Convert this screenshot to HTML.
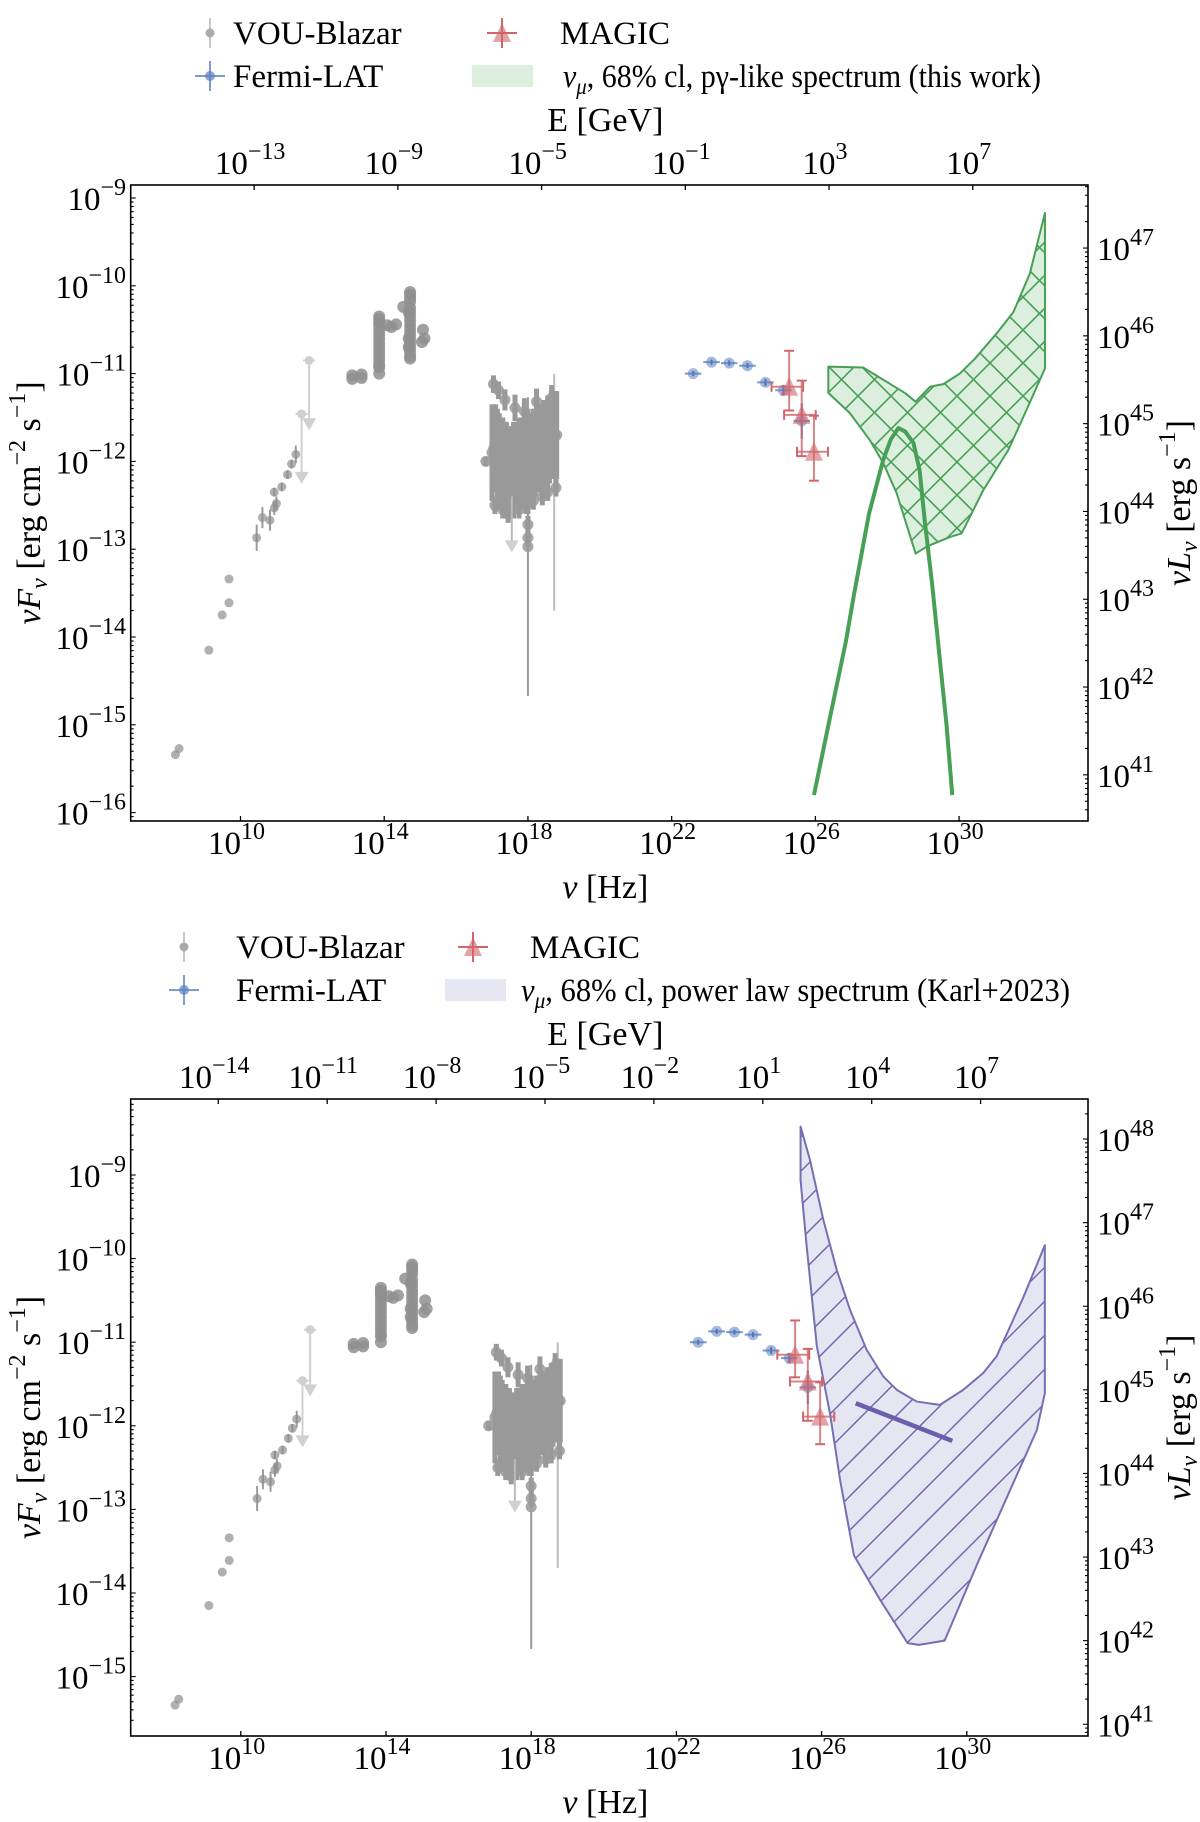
<!DOCTYPE html>
<html><head><meta charset="utf-8">
<style>
html,body{margin:0;padding:0;background:#fff;}
svg{display:block;font-family:"Liberation Serif",serif;}
</style></head>
<body>
<svg id="fig" width="1200" height="1822" viewBox="0 0 1200 1822" xmlns="http://www.w3.org/2000/svg">
<defs>
<pattern id="hatchX" width="33" height="33" patternUnits="userSpaceOnUse">
<path d="M0,0L33,33M33,0L0,33" stroke="#47a055" stroke-width="1.6"/>
</pattern>
<pattern id="hatchSlash" width="34" height="34" patternUnits="userSpaceOnUse">
<path d="M-2,36L36,-2M-36,36L2,-2M32,36L70,-2" stroke="#6a63ad" stroke-width="1.4"/>
</pattern>
</defs>
</svg>
<script>
// ---------------- data (log10 nu [Hz], log10 nuF_nu [erg cm-2 s-1]) ----------------
const radioNu=[8.19,8.29,9.12,9.49,9.68,9.68,10.45,10.61,10.82,10.94,11.0,10.94,11.15,11.31,11.42,11.54];
const radioF=[-15.34,-15.27,-14.15,-13.75,-13.61,-13.34,-12.87,-12.64,-12.67,-12.53,-12.48,-12.35,-12.29,-12.15,-12.03,-11.92];
const radioErr=[0,0,0,0,0,0,0.15,0.12,0.12,0.08,0.08,0.05,0.05,0.05,0.05,0.1];
const ulNu=[11.70,11.91];
const ulF=[-11.46,-10.85];
const ulTo=[-12.21,-11.60];
const irNu=[13.11,13.11,13.37,13.37,13.86,13.86,13.86,13.86,13.86,13.86,13.86,13.86,13.86,13.86,13.86,13.86,13.86,13.86,13.86,14.08,14.2,14.33,14.53,14.72,14.72,14.72,14.72,14.72,14.72,14.72,14.72,14.72,14.72,14.72,14.72,14.72,14.72,14.72,14.72,14.72,14.68,14.68,14.68,15.08,15.12,15.05];
const irF=[-11.02,-11.06,-11.01,-11.05,-10.35,-10.38,-10.42,-10.45,-10.5,-10.55,-10.6,-10.65,-10.7,-10.75,-10.8,-10.85,-10.9,-10.93,-11.0,-10.45,-10.47,-10.44,-10.24,-10.07,-10.1,-10.14,-10.18,-10.25,-10.3,-10.35,-10.4,-10.45,-10.5,-10.55,-10.6,-10.65,-10.7,-10.75,-10.8,-10.83,-10.3,-10.6,-10.7,-10.5,-10.6,-10.64];
const xrayNu=[16.83,17.04,17.18,17.36,17.64,17.9,18.24,18.66,17.0,17.05,17.1,17.15,17.2,17.25,17.3,17.35,17.4,17.45,17.5,17.55,17.6,17.65,17.7,17.75,17.8,17.85,17.9,17.95,18.0,18.05,18.1,18.15,18.2,18.25,18.3,18.35,18.4,18.45,18.5,18.55,18.6,18.65,18.7,18.75,18.8,18.0,18.0,18.0,17.08,17.3,17.45,17.75,17.95,18.15,18.4,18.55,18.78];
const xrayF=[-12.0,-11.12,-11.19,-11.30,-11.39,-11.43,-11.32,-11.28,-11.9,-11.85,-11.85,-11.95,-12.0,-12.0,-12.05,-12.05,-12.1,-12.1,-12.15,-12.1,-12.1,-12.05,-12.05,-12.0,-12.0,-12.0,-12.0,-12.0,-12.0,-11.95,-11.95,-11.9,-11.9,-11.85,-11.85,-11.85,-11.85,-11.8,-11.8,-11.75,-11.75,-11.7,-11.7,-11.7,-11.7,-12.72,-12.87,-12.97,-12.5,-12.55,-12.6,-12.55,-12.5,-12.45,-12.4,-12.35,-12.3];
const xrayErr=[0.05,0.1,0.1,0.12,0.15,0.15,0.15,0.15,0.55,0.5,0.5,0.55,0.55,0.5,0.55,0.5,0.55,0.5,0.5,0.5,0.55,0.5,0.5,0.5,0.5,0.5,0.55,0.5,0.6,0.5,0.5,0.5,0.5,0.5,0.5,0.5,0.5,0.5,0.5,0.5,0.5,0.5,0.5,0.5,0.5,0.1,0.1,1.7,0.1,0.1,0.1,0.1,0.1,0.1,0.1,0.1,0.1];
const xlineNu=[18.73];
const xlineTop=[-11.0];
const xlineBot=[-13.7];
const xulNu=[17.55];
const xulF=[-12.4];
const xulTo=[-12.99];
const fermiNu=[22.60,23.11,23.60,24.11,24.61,25.11,25.62];
const fermiF=[-11.0,-10.87,-10.88,-10.91,-11.10,-11.19,-11.54];
const fermiErr=[0.03,0.03,0.03,0.03,0.04,0.06,0.2];
const fermiXerr=[0.23,0.23,0.23,0.23,0.23,0.23,0.23];
const magicNu=[25.27,25.62,25.96];
const magicF=[-11.15,-11.47,-11.89];
const magicLo=[-11.42,-11.94,-12.22];
const magicHi=[-10.74,-11.08,-11.48];
const magicNuLo=[24.78,25.13,25.49];
const magicNuHi=[25.66,26.01,26.35];
// green pgamma band (top panel)
const greenUpNu=[26.36,27.33,27.89,28.49,28.79,29.19,29.56,30.02,30.44,31.05,31.51,31.97,32.39];
const greenUpF=[-10.92,-10.93,-11.07,-11.22,-11.32,-11.15,-11.12,-11.0,-10.83,-10.54,-10.30,-9.86,-9.17];
const greenLoNu=[32.39,31.88,31.37,30.67,30.07,29.75,29.10,28.79,28.26,27.89,27.52,26.96,26.36];
const greenLoF=[-10.94,-11.41,-11.87,-12.33,-12.82,-12.86,-12.97,-13.05,-12.36,-12.02,-11.76,-11.45,-11.22];
const bellNu=[25.96,26.4,26.85,27.06,27.49,27.89,28.1,28.31,28.5,28.73,28.9,29.05,29.25,29.45,29.65,29.81];
const bellF=[-15.8,-14.93,-14.05,-13.55,-12.6,-11.98,-11.75,-11.62,-11.66,-11.79,-12.1,-12.7,-13.4,-14.2,-15.0,-15.8];
// purple power-law band (bottom panel)
const purpUpNu=[25.42,25.68,26.05,26.42,26.78,27.24,27.70,28.07,28.62,29.26,29.90,30.45,30.82,31.56,32.15];
const purpUpF=[-8.42,-8.82,-9.54,-10.14,-10.61,-11.09,-11.41,-11.57,-11.71,-11.75,-11.57,-11.37,-11.17,-10.46,-9.84];
const purpLoNu=[32.15,31.93,30.28,29.39,28.68,28.37,27.61,26.89,26.51,26.23,25.87,25.59,25.42];
const purpLoF=[-11.61,-12.05,-13.66,-14.57,-14.62,-14.60,-14.08,-13.55,-12.65,-11.85,-11.05,-9.86,-9.06];
const plNu=[26.94,29.60];
const plF=[-11.73,-12.18];
// axis tick labels
const topYTicks=[-16,-15,-14,-13,-12,-11,-10,-9];
const topRTicks=[41,42,43,44,45,46,47];
const topETicks=[-13,-9,-5,-1,3,7];
const botYTicks=[-15,-14,-13,-12,-11,-10,-9];
const botRTicks=[41,42,43,44,45,46,47,48];
const botETicks=[-14,-11,-8,-5,-2,1,4,7];
const nuTicks=[10,14,18,22,26,30];
const LOFFSET=56.57, EOFFSET=23.38;

const NS="http://www.w3.org/2000/svg";
const svg=document.getElementById('fig');
function el(tag,attrs,parent){const e=document.createElementNS(NS,tag);for(const k in attrs)e.setAttribute(k,attrs[k]);(parent||svg).appendChild(e);return e;}
function powText(parent,x,y,exp,anchor){
  const t=el('text',{x:x,y:y,'font-size':33,'text-anchor':anchor,fill:'#000'},parent);
  const a=el('tspan',{},t);a.textContent='10';
  const b=el('tspan',{dy:-15,'font-size':24},t);b.textContent=String(exp).replace('-','\u2212');
  return t;
}

function panel(P){
  const g=el('g',{});
  
  
  const X=l=>P.x0+(l-10)*P.xs;
  const Y=l=>P.y0-(l+9)*P.ys;
  const cid='clip'+P.id;
  const cp=el('clipPath',{id:cid},g);el('rect',{x:P.L,y:P.T,width:P.R-P.L,height:P.B-P.T},cp);
  const d=el('g',{'clip-path':'url(#'+cid+')'},g);
  
  
  const pts=P.upNu.map((n,i)=>X(n)+','+Y(P.upF[i])).concat(P.loNu.map((n,i)=>X(n)+','+Y(P.loF[i]))).join(' ');
  const band=el('polygon',{points:pts,fill:P.bandFill,stroke:'none'},d);
  
  
  const hatch=el('polygon',{points:pts,fill:'url(#'+P.pattern+')',stroke:P.bandEdge,'stroke-width':2,'stroke-linejoin':'round'},d);
  
  
  if(P.curveNu){
    const c=el('polyline',{points:P.curveNu.map((n,i)=>X(n)+','+Y(P.curveF[i])).join(' '),fill:'none',stroke:P.curveColor,'stroke-width':P.curveW,'stroke-linejoin':'round'},d);
    
    
  }
  const gv=el('g',{},d);
  
  
  radioNu.forEach((n,i)=>{
    if(radioErr[i]>0)el('line',{x1:X(n),x2:X(n),y1:Y(radioF[i]+radioErr[i]),y2:Y(radioF[i]-radioErr[i]),stroke:'#9a9a9a','stroke-width':2},gv);
    el('circle',{cx:X(n),cy:Y(radioF[i]),r:4.5,fill:'#8f8f8f','fill-opacity':0.7},gv);
  });
  ulNu.forEach((n,i)=>{
    el('line',{x1:X(n),x2:X(n),y1:Y(ulF[i]),y2:Y(ulTo[i]),stroke:'#d0d0d0','stroke-width':2},gv);
    el('line',{x1:X(n)-6,x2:X(n)+6,y1:Y(ulF[i]),y2:Y(ulF[i]),stroke:'#d0d0d0','stroke-width':2},gv);
    el('circle',{cx:X(n),cy:Y(ulF[i]),r:4.5,fill:'#d0d0d0'},gv);
    const yy=Y(ulTo[i]);
    el('polygon',{points:(X(n)-7)+','+(yy-8)+' '+(X(n)+7)+','+(yy-8)+' '+X(n)+','+(yy+4),fill:'#d0d0d0'},gv);
  });
  irNu.forEach((n,i)=>{el('circle',{cx:X(n),cy:Y(irF[i]),r:6,fill:'#8f8f8f','fill-opacity':0.85},gv);});
  xlineNu.forEach((n,i)=>{el('line',{x1:X(n),x2:X(n),y1:Y(xlineTop[i]),y2:Y(xlineBot[i]),stroke:'#bdbdbd','stroke-width':2},gv);});
  xrayNu.forEach((n,i)=>{
    el('line',{x1:X(n),x2:X(n),y1:Y(xrayF[i]+xrayErr[i]),y2:Y(xrayF[i]-xrayErr[i]),stroke:'#999','stroke-width':i===47?2:5},gv);
    el('circle',{cx:X(n),cy:Y(xrayF[i]),r:5.5,fill:'#999','fill-opacity':0.85},gv);
  });
  xulNu.forEach((n,i)=>{
    el('line',{x1:X(n),x2:X(n),y1:Y(xulF[i]),y2:Y(xulTo[i]),stroke:'#bbb','stroke-width':2},gv);
    const yy=Y(xulTo[i]);
    el('polygon',{points:(X(n)-7)+','+(yy-8)+' '+(X(n)+7)+','+(yy-8)+' '+X(n)+','+(yy+4),fill:'#d0d0d0'},gv);
  });
  const gf=el('g',{},d);
  
  
  fermiNu.forEach((n,i)=>{
    el('line',{x1:X(n-fermiXerr[i]),x2:X(n+fermiXerr[i]),y1:Y(fermiF[i]),y2:Y(fermiF[i]),stroke:'#5b7fc0','stroke-width':2,'stroke-opacity':0.8},gf);
    el('line',{x1:X(n),x2:X(n),y1:Y(fermiF[i]+fermiErr[i]),y2:Y(fermiF[i]-fermiErr[i]),stroke:'#4a68a8','stroke-width':2},gf);
    el('circle',{cx:X(n),cy:Y(fermiF[i]),r:5.5,fill:'#5b7fc0','fill-opacity':0.55},gf);
  });
  const gm=el('g',{},d);
  
  
  magicNu.forEach((n,i)=>{
    const c='#d0666a',x=X(n),y=Y(magicF[i]);
    el('line',{x1:X(magicNuLo[i]),x2:X(magicNuHi[i]),y1:y,y2:y,stroke:c,'stroke-width':2,'stroke-opacity':0.8},gm);
    el('line',{x1:x,x2:x,y1:Y(magicHi[i]),y2:Y(magicLo[i]),stroke:c,'stroke-width':2,'stroke-opacity':0.8},gm);
    [Y(magicHi[i]),Y(magicLo[i])].forEach(yy=>el('line',{x1:x-5,x2:x+5,y1:yy,y2:yy,stroke:c,'stroke-width':2},gm));
    [X(magicNuLo[i]),X(magicNuHi[i])].forEach(xx=>el('line',{x1:xx,x2:xx,y1:y-5,y2:y+5,stroke:c,'stroke-width':2},gm));
    el('polygon',{points:(x-9)+','+(y+9)+' '+(x+9)+','+(y+9)+' '+x+','+(y-10),fill:c,'fill-opacity':0.6},gm);
  });
  if(P.lineNu){
    const pl=el('line',{x1:X(P.lineNu[0]),y1:Y(P.lineF[0]),x2:X(P.lineNu[1]),y2:Y(P.lineF[1]),stroke:'#6a5fae','stroke-width':4.5},d);
    
    
  }
  el('rect',{x:P.L,y:P.T,width:P.R-P.L,height:P.B-P.T,fill:'none',stroke:'#000','stroke-width':1.6},g);
  const gx=el('g',{},g);
  
  
  nuTicks.forEach(t=>{const x=X(t);el('line',{x1:x,x2:x,y1:P.B,y2:P.B-5,stroke:'#000','stroke-width':1.3},gx);powText(gx,x-4,P.B+33,t,'middle');});
  const xl=el('text',{x:(P.L+P.R)/2-4,y:P.B+77,'font-size':34,'text-anchor':'middle'},gx);
  xl.innerHTML='<tspan font-style="italic">ν</tspan> [Hz]';
  const ge=el('g',{},g);
  
  
  P.eTicks.forEach(t=>{const x=X(t+EOFFSET);el('line',{x1:x,x2:x,y1:P.T,y2:P.T+5,stroke:'#000','stroke-width':1.3},ge);powText(ge,x-4,P.T-11,t,'middle');});
  const el2=el('text',{x:(P.L+P.R)/2-4,y:P.T-54,'font-size':34,'text-anchor':'middle'},ge);el2.textContent='E [GeV]';
  const gy=el('g',{},g);
  
  
  for(let dd=-17;dd<=-8;dd++)for(let k=1;k<10;k++){const y=Y(dd+Math.log10(k));if(y<P.T+1||y>P.B-1)continue;el('line',{x1:P.L,x2:P.L+(k===1?5:3),y1:y,y2:y,stroke:'#000','stroke-width':1.1},gy);}
  P.yTicks.forEach(t=>powText(gy,126,Y(t)+12,t,'end'));
  const yl=el('text',{transform:'translate(40,'+((P.T+P.B)/2)+') rotate(-90)','font-size':34,'text-anchor':'middle'},gy);
  yl.innerHTML='<tspan font-style="italic">νF</tspan><tspan font-style="italic" font-size="24" dy="7">ν</tspan><tspan dy="-7"> [erg cm</tspan><tspan font-size="24" dy="-15">−2</tspan><tspan dy="15"> s</tspan><tspan font-size="24" dy="-15">−1</tspan><tspan dy="15">]</tspan>';
  const gr=el('g',{},g);
  
  
  for(let dd=39;dd<=49;dd++)for(let k=1;k<10;k++){const y=Y(dd+Math.log10(k)-LOFFSET);if(y<P.T+1||y>P.B-1)continue;el('line',{x1:P.R,x2:P.R-(k===1?5:3),y1:y,y2:y,stroke:'#000','stroke-width':1.1},gr);}
  P.rTicks.forEach(t=>powText(gr,1097,Y(t-LOFFSET)+12,t,'start'));
  const rl=el('text',{transform:'translate(1190,'+((P.T+P.B)/2)+') rotate(-90)','font-size':34,'text-anchor':'middle'},gr);
  rl.innerHTML='<tspan font-style="italic">νL</tspan><tspan font-style="italic" font-size="24" dy="7">ν</tspan><tspan dy="-7"> [erg s</tspan><tspan font-size="24" dy="-15">−1</tspan><tspan dy="15">]</tspan>';
  const lg=el('g',{},g);
  
  
  const r1=P.legY, r2=P.legY+43, mx=P.legMx, tx=P.legTx, m2=P.legM2, t2=P.legT2;
  const e1=el('g',{},lg);
  el('line',{x1:mx,x2:mx,y1:r1-15,y2:r1+15,stroke:'#c8c8c8','stroke-width':2},e1);
  el('circle',{cx:mx,cy:r1,r:4.5,fill:'#aaa'},e1);
  el('text',{x:tx,y:r1+11,'font-size':33},e1).textContent='VOU-Blazar';
  const e2=el('g',{},lg);
  el('line',{x1:mx,x2:mx,y1:r2-15,y2:r2+15,stroke:'#7f9bd0','stroke-width':2},e2);
  el('line',{x1:mx-15,x2:mx+15,y1:r2,y2:r2,stroke:'#7f9bd0','stroke-width':2},e2);
  el('circle',{cx:mx,cy:r2,r:5,fill:'#5b7fc0','fill-opacity':0.7},e2);
  el('text',{x:tx,y:r2+11,'font-size':33},e2).textContent='Fermi-LAT';
  const e3=el('g',{},lg);
  el('line',{x1:m2,x2:m2,y1:r1-15,y2:r1+15,stroke:'#d0666a','stroke-width':2},e3);
  el('line',{x1:m2-15,x2:m2+15,y1:r1,y2:r1,stroke:'#d0666a','stroke-width':2},e3);
  el('polygon',{points:(m2-9)+','+(r1+9)+' '+(m2+9)+','+(r1+9)+' '+m2+','+(r1-10),fill:'#d0666a','fill-opacity':0.6},e3);
  el('text',{x:t2,y:r1+11,'font-size':33},e3).textContent='MAGIC';
  const e4=el('g',{},lg);
  el('rect',{x:P.patchX,y:r2-11,width:61,height:22,fill:P.bandFill},e4);
  const lt=el('text',{x:P.bandTx,y:r2+11,'font-size':33,textLength:P.bandLen,lengthAdjust:'spacingAndGlyphs'},e4);
  lt.innerHTML='<tspan font-style="italic">ν</tspan><tspan font-style="italic" font-size="23" dy="7">μ</tspan><tspan dy="-7">, '+P.bandLabel+'</tspan>';
}

panel({id:1,name:'top-panel-pgamma',L:130.7,R:1088,T:185,B:821,x0:240.5,xs:35.93,y0:198,ys:87.8,
  yTicks:topYTicks,rTicks:topRTicks,eTicks:topETicks,
  upNu:greenUpNu,upF:greenUpF,loNu:greenLoNu,loF:greenLoF,bandFill:'#dcefdf',bandEdge:'#47a055',pattern:'hatchX',
  curveNu:bellNu,curveF:bellF,curveColor:'#47a055',curveW:4,curveName:'pgamma-spectrum-curve',
  legY:33,legMx:210,legTx:233,legM2:502,legT2:560,patchX:472,bandTx:563,bandLen:478,bandLabel:'68% cl, pγ-like spectrum (this work)'});
panel({id:2,name:'bottom-panel-power-law',L:130.7,R:1088,T:1099,B:1736,x0:240.8,xs:36.3,y0:1175,ys:83.6,
  yTicks:botYTicks,rTicks:botRTicks,eTicks:botETicks,
  upNu:purpUpNu,upF:purpUpF,loNu:purpLoNu,loF:purpLoF,bandFill:'#e6e5f2',bandEdge:'#7470b5',pattern:'hatchSlash',
  lineNu:plNu,lineF:plF,
  legY:947,legMx:184,legTx:236,legM2:473,legT2:530,patchX:445,bandTx:521,bandLen:549,bandLabel:'68% cl, power law spectrum (Karl+2023)'});
</script>
</body></html>
